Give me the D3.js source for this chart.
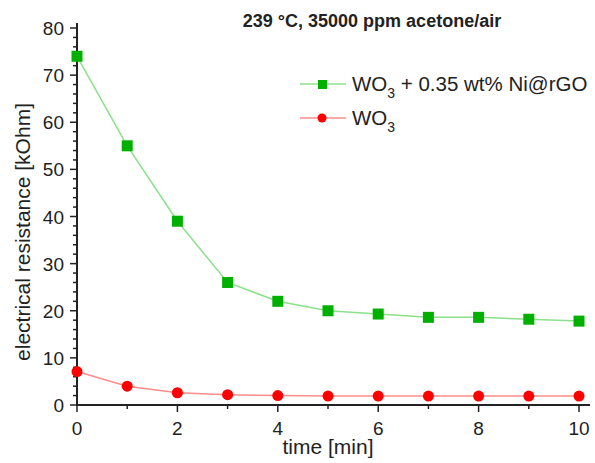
<!DOCTYPE html>
<html>
<head>
<meta charset="utf-8">
<script src="https://cdn.jsdelivr.net/npm/d3@7"></script>
<style>
  body { margin: 0; background: #fff; }
  text { font-family: "Liberation Sans", Arial, sans-serif; fill: #222; }
</style>
</head>
<body>
<div id="chart"></div>
<script>
// data
const timeMin = [0, 1, 2, 3, 4, 5, 6, 7, 8, 9, 10];
const niRgoValues = [74, 55, 39, 26, 22, 20, 19.3, 18.6, 18.6, 18.2, 17.8];
const wo3Values = [7.1, 4.0, 2.6, 2.2, 2.0, 1.9, 1.9, 1.9, 1.9, 1.9, 1.9];
const xTicks = [0, 2, 4, 6, 8, 10];
const yTicks = [0, 10, 20, 30, 40, 50, 60, 70, 80];

const width = 595, height = 463;

let svg = d3.select("#chart")
    .append("svg")
    .attr("width", width)
    .attr("height", height);

let x = d3.scaleLinear().domain([0, 10]).range([77, 579]);
let y = d3.scaleLinear().domain([0, 80]).range([405, 28]);

// x axis
let xAxis = svg.append("g")
    .attr("transform", "translate(0,405)");
xAxis.append("line")
    .attr("x1", 77).attr("x2", 590)
    .attr("stroke", "#222").attr("stroke-width", 2);
xAxis.selectAll(".minor")
    .data(d3.range(1, 10, 2))
    .enter().append("line")
    .attr("x1", d => x(d)).attr("x2", d => x(d))
    .attr("y1", 0).attr("y2", 4)
    .attr("stroke", "#222").attr("stroke-width", 1.5);
xAxis.selectAll(".major")
    .data(xTicks)
    .enter().append("line")
    .attr("x1", d => x(d)).attr("x2", d => x(d))
    .attr("y1", 0).attr("y2", 7)
    .attr("stroke", "#222").attr("stroke-width", 1.5);
xAxis.selectAll(".lbl")
    .data(xTicks)
    .enter().append("text")
    .attr("x", d => x(d))
    .attr("y", 30)
    .style("text-anchor", "middle")
    .style("font-size", "19px")
    .text(d => d);

// y axis
let yAxis = svg.append("g")
    .attr("transform", "translate(77,0)");
yAxis.append("line")
    .attr("y1", 406).attr("y2", 23)
    .attr("stroke", "#222").attr("stroke-width", 2);
yAxis.selectAll(".minor")
    .data(d3.range(2, 80, 2).filter(d => d % 10 !== 0))
    .enter().append("line")
    .attr("y1", d => y(d)).attr("y2", d => y(d))
    .attr("x1", 0).attr("x2", -4)
    .attr("stroke", "#222").attr("stroke-width", 1.5);
yAxis.selectAll(".major")
    .data(yTicks)
    .enter().append("line")
    .attr("y1", d => y(d)).attr("y2", d => y(d))
    .attr("x1", 0).attr("x2", -7)
    .attr("stroke", "#222").attr("stroke-width", 1.5);
yAxis.selectAll(".lbl")
    .data(yTicks)
    .enter().append("text")
    .attr("x", -13)
    .attr("y", d => y(d) + 7)
    .style("text-anchor", "end")
    .style("font-size", "19px")
    .text(d => d);

// axis labels
svg.append("text")
    .attr("x", 328).attr("y", 454)
    .style("text-anchor", "middle")
    .style("font-size", "21px")
    .text("time [min]");

svg.append("text")
    .attr("transform", "translate(30,232) rotate(-90)")
    .style("text-anchor", "middle")
    .style("font-size", "21px")
    .text("electrical resistance [kOhm]");

// title
svg.append("text")
    .attr("x", 372).attr("y", 27)
    .style("text-anchor", "middle")
    .style("font-size", "18px")
    .style("font-weight", "bold")
    .text("239 °C, 35000 ppm acetone/air");

let line = d3.line()
    .x((d, i) => x(timeMin[i]))
    .y(d => y(d));

// WO3 series
svg.append("path")
    .datum(wo3Values)
    .attr("d", line)
    .attr("fill", "none")
    .attr("stroke", "#ff8c8c")
    .attr("stroke-width", 1.5);
svg.selectAll(".wo3")
    .data(wo3Values)
    .enter().append("circle")
    .attr("cx", (d, i) => x(timeMin[i]))
    .attr("cy", d => y(d))
    .attr("r", 5.5)
    .attr("fill", "#ff0000");

// WO3 + Ni@rGO series
svg.append("path")
    .datum(niRgoValues)
    .attr("d", line)
    .attr("fill", "none")
    .attr("stroke", "#8ce08c")
    .attr("stroke-width", 1.5);
svg.selectAll(".ni")
    .data(niRgoValues)
    .enter().append("rect")
    .attr("x", (d, i) => x(timeMin[i]) - 5.5)
    .attr("y", d => y(d) - 5.5)
    .attr("width", 11).attr("height", 11)
    .attr("fill", "#00b000");

// legend
let legend = svg.append("g");
legend.append("line")
    .attr("x1", 300).attr("x2", 346).attr("y1", 84).attr("y2", 84)
    .attr("stroke", "#8ce08c").attr("stroke-width", 1.5);
legend.append("rect")
    .attr("x", 318).attr("y", 80).attr("width", 9).attr("height", 9)
    .attr("fill", "#00b000");
let t1 = legend.append("text")
    .attr("x", 352).attr("y", 91)
    .style("font-size", "20.5px");
t1.append("tspan").text("WO");
t1.append("tspan").attr("dy", 7).style("font-size", "14px").text("3");
t1.append("tspan").attr("dy", -7).text(" + 0.35 wt% Ni@rGO");

legend.append("line")
    .attr("x1", 300).attr("x2", 346).attr("y1", 118).attr("y2", 118)
    .attr("stroke", "#ff8c8c").attr("stroke-width", 1.5);
legend.append("circle")
    .attr("cx", 322).attr("cy", 118).attr("r", 4.5)
    .attr("fill", "#ff0000");
let t2 = legend.append("text")
    .attr("x", 352).attr("y", 125)
    .style("font-size", "20.5px");
t2.append("tspan").text("WO");
t2.append("tspan").attr("dy", 7).style("font-size", "14px").text("3");
</script>
</body>
</html>
